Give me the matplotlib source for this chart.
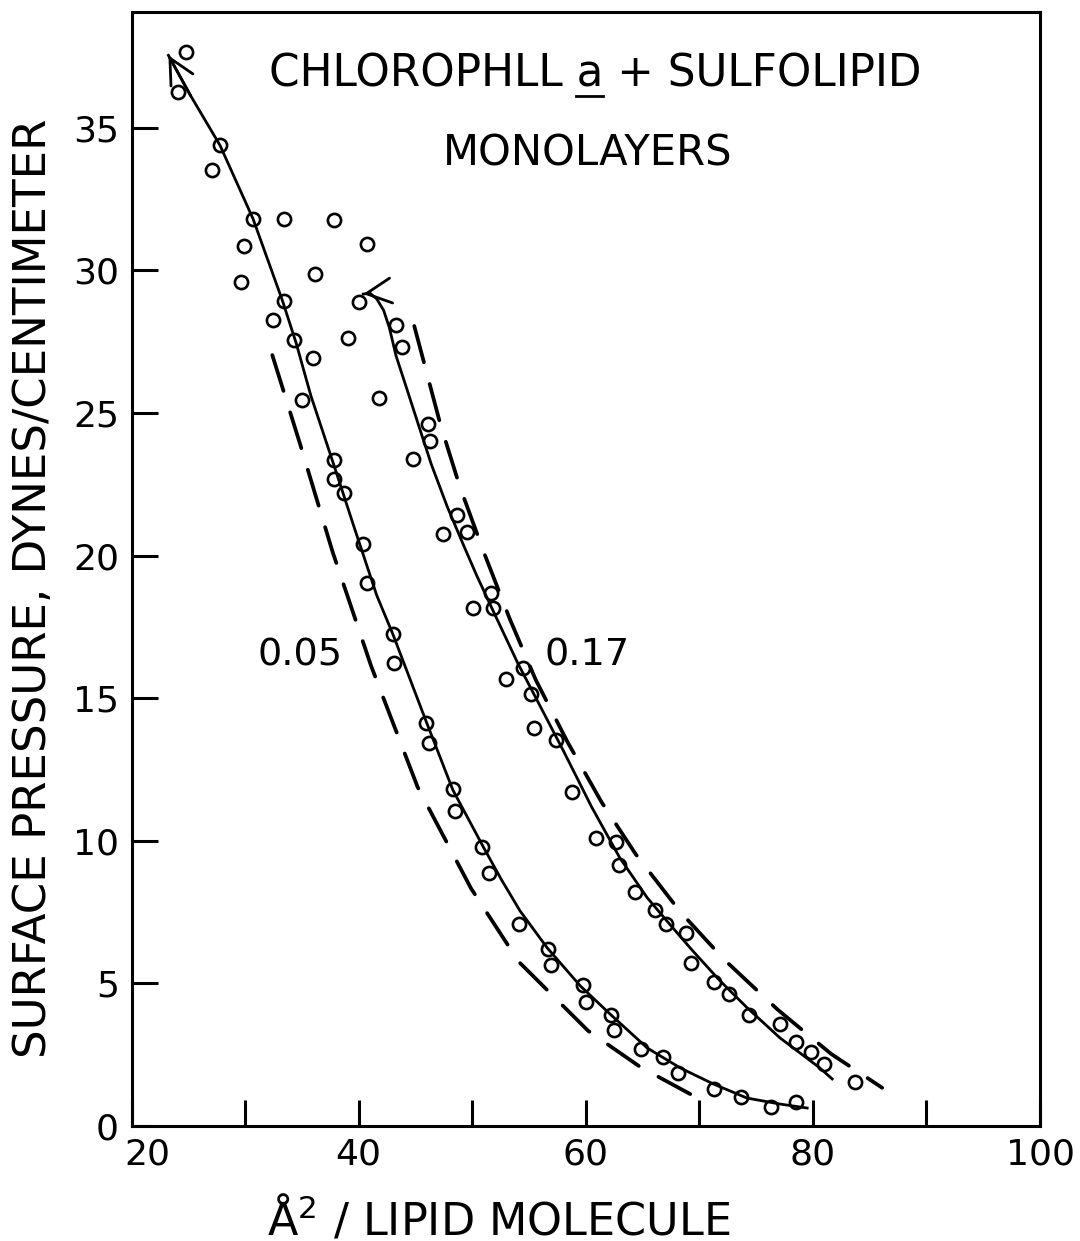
import matplotlib
matplotlib.use('Agg')
import matplotlib.pyplot as plt
import matplotlib.transforms as mtrans
from matplotlib.lines import Line2D

# circles, two sulfolipid fractions
area_005 = [24.8, 24.1, 27.8, 27.1, 30.7, 33.4, 37.8, 40.7, 29.9, 36.2,
            29.6, 33.4, 40.0, 32.5, 34.3, 39.1, 36.0, 35.0, 41.8, 37.8,
            37.8, 38.7, 40.4, 40.7, 43.0, 43.1, 45.9, 46.2, 48.3, 48.5,
            50.9, 51.5, 54.1, 56.7, 56.9, 59.8, 60.0, 62.2, 62.5, 64.9,
            66.8, 68.1, 71.3, 73.7, 76.3, 78.5]
press_005 = [37.65, 36.24, 34.38, 33.53, 31.81, 31.81, 31.78, 30.93, 30.86, 29.88,
             29.6, 28.93, 28.89, 28.26, 27.56, 27.63, 26.92, 25.45, 25.52, 23.34,
             22.67, 22.18, 20.39, 19.05, 17.26, 16.24, 14.13, 13.43, 11.81, 11.04,
             9.77, 8.86, 7.1, 6.22, 5.66, 4.96, 4.36, 3.9, 3.37, 2.71,
             2.43, 1.86, 1.3, 1.02, 0.67, 0.84]

area_017 = [43.3, 43.8, 46.1, 46.3, 44.8, 48.7, 47.4, 49.5, 51.7, 50.1,
            51.8, 54.5, 53.0, 55.2, 55.4, 57.4, 58.8, 60.9, 62.7, 62.9,
            64.3, 66.1, 67.1, 68.8, 69.3, 71.3, 72.6, 74.4, 77.1, 78.5,
            79.8, 81.0, 83.7]
press_017 = [28.08, 27.31, 24.6, 24.01, 23.37, 21.44, 20.77, 20.81, 18.7, 18.17,
             18.17, 16.06, 15.68, 15.15, 13.95, 13.53, 11.7, 10.09, 9.95, 9.14,
             8.19, 7.59, 7.1, 6.75, 5.73, 5.06, 4.64, 3.9, 3.59, 2.95,
             2.6, 2.18, 1.55]

# hand drawn solid curves (first vertex is the arrow tip)
fit_005_x = [23.25, 25.2, 27.8, 30.7, 33.3, 34.5, 35.8, 37.8, 39.6, 41.6, 43.0,
             46.0, 48.3, 51.0, 52.6, 54.2, 56.6, 59.5, 62.1, 65.4, 68.3, 71.2, 74.2, 77.1, 79.5]
fit_005_y = [37.54, 36.13, 34.38, 31.81, 28.93, 27.45, 25.6, 23.2, 21.0, 18.6, 17.26,
             14.13, 11.78, 9.77, 8.62, 7.55, 6.25, 4.92, 3.94, 2.74, 2.04, 1.48, 0.98, 0.77, 0.63]

fit_017_x = [40.4, 41.0, 41.6, 42.2, 42.7, 43.3, 44.2, 45.2, 46.4, 47.8, 49.2, 50.4, 51.8, 54.0,
             55.7, 58.0, 60.5, 63.0, 65.4, 67.1, 69.4, 71.8, 74.2, 77.1, 80.6, 81.7]
fit_017_y = [29.17, 29.2, 29.0, 28.6, 28.0, 27.0, 25.9, 24.67, 23.2, 21.72, 20.4, 19.3, 18.1, 16.24,
             14.94, 13.18, 11.2, 9.4, 8.01, 7.21, 6.15, 5.10, 4.15, 3.09, 2.04, 1.65]

# long dashed reference curves
dash_005_x = [32.4, 34.8, 37.7, 41.1, 45.2, 49.9, 54.1, 60.2, 64.8, 69.2]
dash_005_y = [27.03, 23.97, 20.14, 16.13, 11.88, 8.33, 5.76, 3.34, 2.07, 1.12]
dash_017_x = [44.9, 47.2, 48.9, 51.1, 53.3, 55.6, 58.4, 61.4, 64.4, 68.3, 72.2, 76.9, 81.6, 86.1]
dash_017_y = [28.05, 24.6, 22.43, 20.04, 17.79, 15.64, 13.46, 11.35, 9.53, 7.52, 5.83, 4.08, 2.53, 1.34]

x_ticks = [20, 40, 60, 80, 100]
x_minor = [30, 50, 70, 90]
y_ticks = [0, 5, 10, 15, 20, 25, 30, 35]

W, H = 1080, 1241
fig = plt.figure(figsize=(W / 100, H / 100), dpi=100)
ax = fig.add_axes([131.5 / W, 115 / H, (1040 - 131.5) / W, (1126 - 12) / H])
ax.set_xlim(20, 100)
ax.set_ylim(0, 39.06)

for s in ax.spines.values():
    s.set_linewidth(2.2)

ax.plot(fit_005_x, fit_005_y, color='k', lw=2.0)
ax.plot(fit_017_x, fit_017_y, color='k', lw=2.0)
ax.plot(dash_005_x, dash_005_y, color='k', lw=2.7, linestyle=(0, (10, 6)), dash_capstyle='round')
ax.plot(dash_017_x, dash_017_y, color='k', lw=2.7, linestyle=(0, (10, 6)), dash_capstyle='round')

for fx, fy in [(fit_005_x, fit_005_y), (fit_017_x, fit_017_y)]:
    ax.annotate('', xy=(fx[0], fy[0]), xytext=(fx[1], fy[1]),
                arrowprops=dict(arrowstyle='->,head_length=0.9,head_width=0.45', lw=2.0,
                                color='k', shrinkA=0, shrinkB=0, mutation_scale=20))

ax.plot(area_005, press_005, 'o', mfc='none', mec='k', ms=9.5, mew=1.9, ls='none')
ax.plot(area_017, press_017, 'o', mfc='none', mec='k', ms=9.5, mew=1.9, ls='none')

ax.set_xticks(x_ticks)
ax.set_xticks(x_minor, minor=True)
ax.set_yticks(y_ticks)
ax.tick_params(which='both', direction='in', length=19, width=2.2, labelsize=26,
               top=False, right=False)
ax.tick_params(axis='x', pad=8)
ax.tick_params(axis='y', pad=9)

# the "20" sits just right of the corner, clear of the "0"
first = ax.get_xticklabels()[0]
first.set_transform(first.get_transform() + mtrans.ScaledTranslation(16 / 100, 0, fig.dpi_scale_trans))

ax.text(34.8, 16.48, '0.05', fontsize=27.5, ha='center', va='center')
ax.text(60.1, 16.48, '0.17', fontsize=27.5, ha='center', va='center')

TITLE_SIZE = 31.5
title = ax.text(0.51, 0.9327, 'CHLOROPHLL a + SULFOLIPID', transform=ax.transAxes,
                fontsize=TITLE_SIZE, ha='center', va='baseline')
ax.text(0.502, 0.862, 'MONOLAYERS', transform=ax.transAxes,
        fontsize=30, ha='center', va='baseline')

fig.text(34 / W, 1 - 588 / H, 'SURFACE PRESSURE, DYNES/CENTIMETER', rotation=90,
         fontsize=32.5, ha='center', va='center')
fig.text(499 / W, 7 / H, 'Å$^2$ / LIPID MOLECULE', fontsize=32, ha='center', va='baseline')

# underline the "a" of chlorophyll a
fig.canvas.draw()
renderer = fig.canvas.get_renderer()


def text_width(s):
    t = fig.text(0, 0, s, fontsize=TITLE_SIZE)
    w = t.get_window_extent(renderer).width
    t.remove()
    return w


bb = title.get_window_extent(renderer)
a_end = bb.x0 + text_width('CHLOROPHLL a')
a_start = a_end - text_width('a')
base_y = ax.transAxes.transform((0.51, 0.9327))[1]
uy = (base_y - 9) / H
fig.add_artist(Line2D([a_start / W, a_end / W], [uy, uy], color='k', lw=2.0))

fig.savefig('out.png', dpi=100, facecolor='white')
